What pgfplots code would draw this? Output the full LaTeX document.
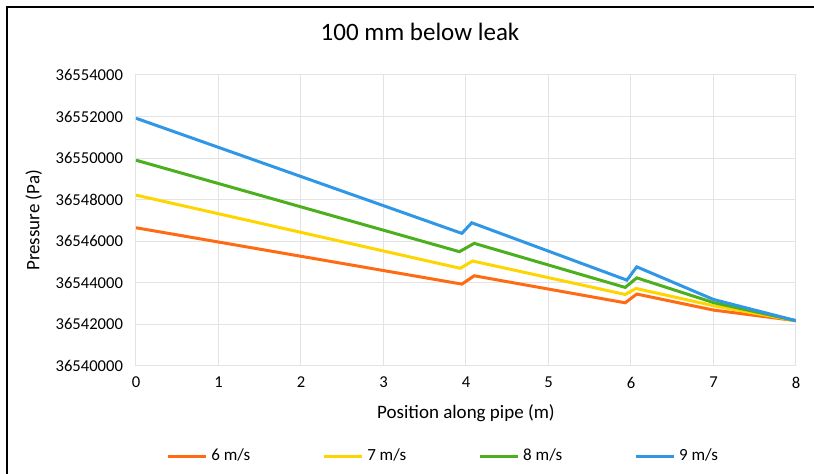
\documentclass[border=0pt]{standalone}
\usepackage{fontspec}
\setmainfont{Carlito}
\usepackage{pgfplots}
\pgfplotsset{compat=1.18}

\definecolor{s6}{HTML}{FF6A13}
\definecolor{s7}{HTML}{FFD500}
\definecolor{s8}{HTML}{4CAF1E}
\definecolor{s9}{HTML}{2F97E6}
\definecolor{gridc}{HTML}{E3E3E3}

\begin{document}
\begin{tikzpicture}
  \useasboundingbox (0,0) rectangle (407pt,237pt);
  % frame of the chart (left and top edge only)
  \draw[line width=1.3pt] (3.5pt,0) -- (3.5pt,233.5pt) -- (407pt,233.5pt);
  \node[font=\fontsize{12.5}{15}\selectfont] at (210pt,221pt) {100 mm below leak};

  \begin{axis}[
    at={(68pt,54pt)}, anchor=south west,
    scale only axis, width=330pt, height=145.5pt,
    xmin=0, xmax=8, ymin=36540000, ymax=36554000,
    xtick={0,1,2,3,4,5,6,7,8},
    ytick={36540000,36542000,36544000,36546000,36548000,36550000,36552000,36554000},
    yticklabels={36540000,36542000,36544000,36546000,36548000,36550000,36552000,36554000},
    scaled y ticks=false,
    grid=major, grid style={gridc, line width=0.5pt},
    axis line style={gridc, line width=0.5pt},
    major tick length=0pt,
    tick label style={font=\fontsize{8.3}{10}\selectfont, /pgf/number format/assume math mode=true},
    xticklabel style={yshift=-2pt},
    yticklabel style={xshift=-3pt},
    label style={font=\fontsize{9.5}{11}\selectfont},
    xlabel={Position along pipe (m)},
    ylabel={Pressure (Pa)},
    xlabel style={yshift=-1pt},
    legend columns=4,
    legend style={draw=none, at={(0.467,-0.31)}, anchor=center,
      font=\fontsize{8.5}{10}\selectfont,
      /tikz/every even column/.append style={column sep=34pt}},
    legend image code/.code={\draw[#1, line width=1.5pt] (0pt,0pt) -- (19pt,0pt);},
    every axis plot/.append style={line width=1.5pt},
  ]
    \addplot[s6] coordinates {(0,36546650) (3.95,36543940) (4.1,36544340) (5.93,36543040) (6.07,36543460) (7,36542690) (8,36542180)};
    \addplot[s7] coordinates {(0,36548220) (3.93,36544700) (4.08,36545050) (5.93,36543440) (6.06,36543730) (7,36542900) (8,36542180)};
    \addplot[s8] coordinates {(0,36549900) (3.92,36545500) (4.1,36545900) (5.93,36543780) (6.07,36544240) (7,36543050) (8,36542180)};
    \addplot[s9] coordinates {(0,36551920) (3.95,36546380) (4.07,36546890) (5.95,36544130) (6.07,36544770) (7,36543200) (8,36542180)};
    \legend{6 m/s, 7 m/s, 8 m/s, 9 m/s}
  \end{axis}
\end{tikzpicture}
\end{document}
